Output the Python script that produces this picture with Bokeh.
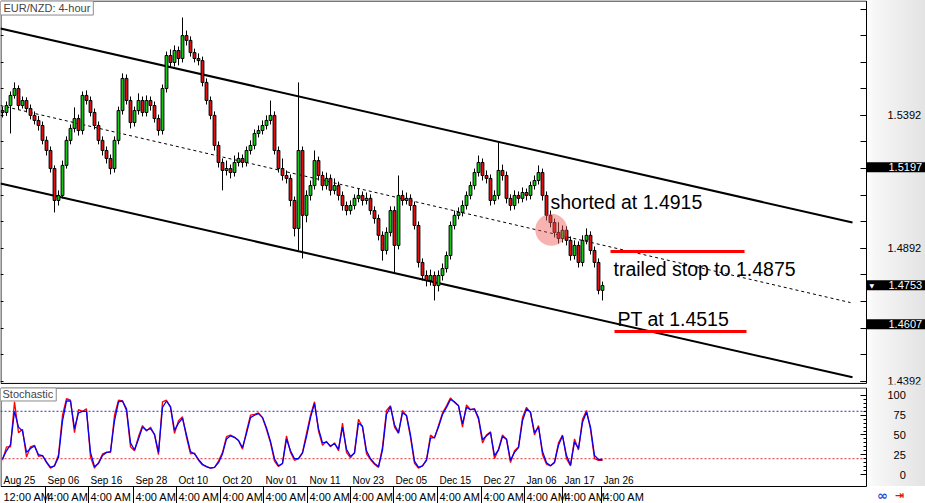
from bokeh.plotting import figure
from bokeh.models import Range1d, FixedTicker, Label, NumeralTickFormatter, ColumnDataSource, LinearAxis
from bokeh.layouts import column
from bokeh.embed import file_html
from bokeh.resources import INLINE
from bokeh.core.properties import value

# ---------------- data ----------------
open_ = [1.5410, 1.5403, 1.5429, 1.5467, 1.5493, 1.5429, 1.5448, 1.5418, 1.5392, 1.5373,
         1.5354, 1.5298, 1.5260, 1.5192, 1.5072, 1.5091, 1.5204, 1.5298, 1.5343, 1.5380,
         1.5335, 1.5467, 1.5448, 1.5403, 1.5354, 1.5298, 1.5260, 1.5230, 1.5192, 1.5298,
         1.5410, 1.5531, 1.5448, 1.5365, 1.5410, 1.5448, 1.5403, 1.5448, 1.5429, 1.5380,
         1.5335, 1.5493, 1.5617, 1.5591, 1.5636, 1.5606, 1.5692, 1.5674, 1.5628, 1.5606,
         1.5598, 1.5516, 1.5448, 1.5392, 1.5279, 1.5215, 1.5185, 1.5192, 1.5177, 1.5215,
         1.5230, 1.5215, 1.5260, 1.5279, 1.5324, 1.5335, 1.5354, 1.5373, 1.5392, 1.5260,
         1.5192, 1.5166, 1.5155, 1.5072, 1.4967, 1.5260, 1.5016, 1.5091, 1.5128, 1.5222,
         1.5166, 1.5128, 1.5155, 1.5110, 1.5128, 1.5091, 1.5053, 1.5034, 1.5053, 1.5080,
         1.5091, 1.5072, 1.5080, 1.5034, 1.5004, 1.4941, 1.4884, 1.4952, 1.5034, 1.4903,
         1.5091, 1.5072, 1.5080, 1.5053, 1.4978, 1.4839, 1.4790, 1.4771, 1.4790, 1.4752,
         1.4790, 1.4816, 1.4865, 1.4978, 1.5016, 1.5027, 1.5053, 1.5091, 1.5128, 1.5177,
         1.5215, 1.5166, 1.5155, 1.5072, 1.5091, 1.5185, 1.5166, 1.5080, 1.5053, 1.5091,
         1.5080, 1.5102, 1.5091, 1.5128, 1.5147, 1.5177, 1.5091, 1.5016, 1.4989, 1.4952,
         1.4929, 1.4960, 1.4922, 1.4865, 1.4903, 1.4839, 1.4922, 1.4941, 1.4884, 1.4839,
         1.4734]
high = [1.5425, 1.5444, 1.5482, 1.5516, 1.5505, 1.5463, 1.5460, 1.5433, 1.5407, 1.5390,
        1.5369, 1.5313, 1.5275, 1.5204, 1.5110, 1.5222, 1.5313, 1.5358, 1.5422, 1.5395,
        1.5482, 1.5486, 1.5463, 1.5418, 1.5369, 1.5313, 1.5275, 1.5245, 1.5313, 1.5425,
        1.5550, 1.5546, 1.5463, 1.5425, 1.5475, 1.5463, 1.5467, 1.5463, 1.5444, 1.5395,
        1.5508, 1.5632, 1.5640, 1.5655, 1.5651, 1.5760, 1.5711, 1.5689, 1.5643, 1.5625,
        1.5613, 1.5531, 1.5463, 1.5407, 1.5294, 1.5230, 1.5222, 1.5207, 1.5241, 1.5253,
        1.5245, 1.5275, 1.5298, 1.5339, 1.5354, 1.5373, 1.5392, 1.5448, 1.5407, 1.5275,
        1.5230, 1.5185, 1.5170, 1.5087, 1.5516, 1.5275, 1.5110, 1.5147, 1.5260, 1.5237,
        1.5181, 1.5177, 1.5170, 1.5155, 1.5143, 1.5106, 1.5068, 1.5072, 1.5095, 1.5117,
        1.5106, 1.5102, 1.5095, 1.5050, 1.5019, 1.4956, 1.4971, 1.5050, 1.5050, 1.5166,
        1.5110, 1.5102, 1.5095, 1.5068, 1.4993, 1.4854, 1.4809, 1.4812, 1.4805, 1.4809,
        1.4835, 1.4880, 1.4993, 1.5034, 1.5046, 1.5072, 1.5106, 1.5143, 1.5192, 1.5241,
        1.5230, 1.5185, 1.5170, 1.5110, 1.5290, 1.5207, 1.5181, 1.5095, 1.5110, 1.5106,
        1.5121, 1.5117, 1.5143, 1.5166, 1.5204, 1.5192, 1.5106, 1.5034, 1.5004, 1.4990,
        1.4978, 1.4975, 1.4937, 1.4922, 1.4918, 1.4941, 1.4967, 1.4956, 1.4899, 1.4854,
        1.4767]
low = [1.5384, 1.5390, 1.5324, 1.5455, 1.5414, 1.5418, 1.5403, 1.5377, 1.5358, 1.5335,
       1.5283, 1.5241, 1.5177, 1.5027, 1.5053, 1.5080, 1.5192, 1.5283, 1.5328, 1.5316,
       1.5320, 1.5433, 1.5388, 1.5339, 1.5283, 1.5241, 1.5211, 1.5170, 1.5177, 1.5283,
       1.5395, 1.5433, 1.5343, 1.5350, 1.5395, 1.5388, 1.5388, 1.5410, 1.5365, 1.5316,
       1.5320, 1.5478, 1.5572, 1.5576, 1.5580, 1.5591, 1.5655, 1.5613, 1.5591, 1.5580,
       1.5501, 1.5433, 1.5377, 1.5260, 1.5196, 1.5110, 1.5166, 1.5155, 1.5162, 1.5200,
       1.5196, 1.5200, 1.5245, 1.5264, 1.5309, 1.5320, 1.5339, 1.5358, 1.5245, 1.5177,
       1.5147, 1.5136, 1.5050, 1.4937, 1.4884, 1.4854, 1.4990, 1.5072, 1.5113, 1.5147,
       1.5110, 1.5113, 1.5091, 1.5095, 1.5072, 1.5034, 1.5016, 1.5019, 1.5038, 1.5065,
       1.5053, 1.5057, 1.5019, 1.4985, 1.4922, 1.4846, 1.4869, 1.4937, 1.4798, 1.4888,
       1.5053, 1.5057, 1.5034, 1.4963, 1.4820, 1.4771, 1.4749, 1.4752, 1.4696, 1.4730,
       1.4771, 1.4801, 1.4850, 1.4963, 1.5001, 1.5012, 1.5038, 1.5076, 1.5113, 1.5162,
       1.5147, 1.5136, 1.5053, 1.5057, 1.5076, 1.5147, 1.5061, 1.5034, 1.5038, 1.5061,
       1.5065, 1.5072, 1.5076, 1.5113, 1.5132, 1.5072, 1.4997, 1.4971, 1.4933, 1.4910,
       1.4914, 1.4903, 1.4846, 1.4850, 1.4820, 1.4824, 1.4907, 1.4869, 1.4820, 1.4719,
       1.4696]
close = [1.5403, 1.5429, 1.5467, 1.5493, 1.5429, 1.5448, 1.5418, 1.5392, 1.5373, 1.5354,
         1.5298, 1.5260, 1.5192, 1.5072, 1.5091, 1.5204, 1.5298, 1.5343, 1.5380, 1.5335,
         1.5467, 1.5448, 1.5403, 1.5354, 1.5298, 1.5260, 1.5230, 1.5192, 1.5298, 1.5410,
         1.5531, 1.5448, 1.5365, 1.5410, 1.5448, 1.5403, 1.5448, 1.5429, 1.5380, 1.5335,
         1.5493, 1.5617, 1.5591, 1.5636, 1.5606, 1.5692, 1.5674, 1.5628, 1.5606, 1.5598,
         1.5516, 1.5448, 1.5392, 1.5279, 1.5215, 1.5185, 1.5192, 1.5177, 1.5215, 1.5230,
         1.5215, 1.5260, 1.5279, 1.5324, 1.5335, 1.5354, 1.5373, 1.5392, 1.5260, 1.5192,
         1.5166, 1.5155, 1.5072, 1.4967, 1.5260, 1.5016, 1.5091, 1.5128, 1.5222, 1.5166,
         1.5128, 1.5155, 1.5110, 1.5128, 1.5091, 1.5053, 1.5034, 1.5053, 1.5080, 1.5091,
         1.5072, 1.5080, 1.5034, 1.5004, 1.4941, 1.4884, 1.4952, 1.5034, 1.4903, 1.5091,
         1.5072, 1.5080, 1.5053, 1.4978, 1.4839, 1.4790, 1.4771, 1.4790, 1.4752, 1.4790,
         1.4816, 1.4865, 1.4978, 1.5016, 1.5027, 1.5053, 1.5091, 1.5128, 1.5177, 1.5215,
         1.5166, 1.5155, 1.5072, 1.5091, 1.5185, 1.5166, 1.5080, 1.5053, 1.5091, 1.5080,
         1.5102, 1.5091, 1.5128, 1.5147, 1.5177, 1.5091, 1.5016, 1.4989, 1.4952, 1.4929,
         1.4960, 1.4922, 1.4865, 1.4903, 1.4839, 1.4922, 1.4941, 1.4884, 1.4839, 1.4734,
         1.4752]

stoch_main = [18, 35, 35, 92, 53, 57, 22, 35, 37, 23,
              24, 15, 8, 11, 25, 75, 96, 94, 53, 82,
              80, 83, 22, 8, 15, 26, 28, 28, 75, 94,
              93, 81, 35, 30, 48, 62, 55, 60, 50, 25,
              92, 94, 85, 52, 68, 73, 47, 26, 27, 18,
              12, 10, 8, 9, 17, 28, 48, 50, 47, 43,
              32, 55, 75, 76, 78, 72, 57, 40, 17, 10,
              14, 49, 28, 18, 20, 28, 52, 75, 92, 55,
              37, 42, 35, 40, 30, 65, 28, 21, 28, 70,
              60, 26, 19, 13, 9, 35, 81, 87, 60, 52,
              81, 74, 47, 14, 8, 11, 19, 50, 46, 62,
              78, 87, 97, 91, 87, 60, 88, 82, 83, 70,
              40, 50, 54, 20, 32, 50, 44, 15, 30, 35,
              72, 85, 78, 50, 62, 25, 13, 11, 16, 40,
              50, 20, 11, 45, 31, 70, 81, 57, 20, 18,
              18]
stoch_signal = [20, 30, 38, 80, 60, 55, 28, 33, 36, 25,
                24, 16, 9, 11, 22, 68, 93, 93, 58, 78,
                80, 80, 28, 10, 14, 24, 28, 29, 68, 92,
                93, 83, 40, 31, 45, 60, 56, 58, 51, 28,
                85, 93, 86, 56, 65, 71, 50, 29, 26, 19,
                13, 10, 8, 9, 15, 26, 45, 49, 47, 43,
                34, 52, 72, 75, 77, 72, 59, 42, 20, 11,
                14, 45, 30, 20, 20, 27, 48, 72, 90, 58,
                40, 41, 36, 39, 32, 60, 32, 23, 27, 65,
                61, 30, 20, 14, 10, 31, 76, 86, 63, 53,
                78, 75, 50, 17, 9, 11, 18, 46, 47, 60,
                76, 85, 95, 92, 87, 64, 85, 82, 83, 72,
                44, 49, 53, 24, 31, 48, 45, 18, 28, 34,
                68, 83, 79, 53, 60, 29, 15, 11, 15, 37,
                49, 24, 12, 41, 33, 66, 79, 60, 24, 19,
                19]
stoch_upper_level = 80
stoch_lower_level = 20

date_pos = [-0.25, 10.75, 21.5, 32.75, 43.5, 54.5, 65.25, 76.25, 87, 97.75,
            108.75, 119.75, 130.5, 140, 149.75]
date_labels = ["Aug 25", "Sep 06", "Sep 16", "Sep 28", "Oct 10", "Oct 20", "Nov 01",
               "Nov 11", "Nov 23", "Dec 05", "Dec 15", "Dec 27", "Jan 06", "Jan 17", "Jan 26"]
time_labels = ["12:00 AM"] + ["4:00 AM"] * 14

price_ticks = [1.4392, 1.4892, 1.5392]
price_minor = [1.4392, 1.4492, 1.4592, 1.4692, 1.4792, 1.4892, 1.4992, 1.5092,
               1.5192, 1.5292, 1.5392, 1.5492, 1.5592, 1.5692, 1.5792]
stoch_ticks = [0, 25, 50, 75, 100]
stoch_minor = [0, 5, 10, 15, 20, 25, 30, 35, 40, 45, 50, 55, 60, 65, 70, 75, 80, 85, 90, 95, 100]

# channel trend lines (x in bar index, y in price)
chan_x = [-0.5, 212.5]
upper_y = [1.5719, 1.4989]
mid_x = [-0.5, 212.0]
mid_y = [1.5429, 1.4688]
lower_y = [1.5136, 1.4407]

stop_x = [152.0, 185.5]
stop_y = [1.4880, 1.4880]
pt_x = [153.0, 186.0]
pt_y = [1.4579, 1.4579]
entry_x = [137.2]
entry_y = [1.4962]

price_boxes = [1.5197, 1.4753, 1.4607]

# ---------------- geometry ----------------
W = 925
H1 = 387
H2 = 116
X0, XEND = -0.5, 230.75     # frame covers the full width (price scale area included)
PANEL_END = 216.0           # right edge of the chart panels (price scale sits here)
FONT = "Liberation Sans"
GRAD = "linear-gradient(to right, #ffffff 0%, #ffffff 93.6%, #f7f7f7 94.5%, #e3e3e3 100%)"

idx = list(range(len(close)))
top = [max(o, c) for o, c in zip(open_, close)]
bot = [min(o, c) for o, c in zip(open_, close)]
colors = ["#14c814" if c >= o else "#e01010" for o, c in zip(open_, close)]
src = ColumnDataSource(dict(x=idx, high=high, low=low, top=top, bot=bot, color=colors))

xr = Range1d(X0, XEND)

# ================= main price panel =================
p = figure(width=W, height=H1, x_range=xr, y_range=Range1d(1.4380, 1.5824),
           output_backend="svg", toolbar_location=None,
           x_axis_location=None, y_axis_location=None,
           min_border_left=0, min_border_top=0, min_border_bottom=3, min_border_right=0)
p.grid.visible = False
p.background_fill_color = None
p.border_fill_color = None
p.styles = {"background": GRAD}
p.outline_line_color = None

ya = LinearAxis(fixed_location=PANEL_END)
ya.ticker = FixedTicker(ticks=price_ticks, minor_ticks=price_minor)
ya.formatter = NumeralTickFormatter(format="0.0000")
ya.axis_line_color = None
ya.major_tick_in = 6
ya.major_tick_out = 0
ya.minor_tick_in = 6
ya.minor_tick_out = 0
ya.major_tick_line_color = "black"
ya.minor_tick_line_color = "black"
ya.major_label_standoff = 21
ya.major_label_text_font = FONT
ya.major_label_text_font_size = "11px"
ya.major_label_text_color = "black"
p.add_layout(ya, "right")

# short inner ticks on the left edge of the price panel
la = LinearAxis(fixed_location=-0.38)
la.ticker = FixedTicker(ticks=price_minor, minor_ticks=[])
la.major_label_overrides = {t: "" for t in price_minor}
la.axis_line_color = None
la.major_tick_in = 3
la.major_tick_out = 0
la.major_tick_line_color = "black"
p.add_layout(la, "left")

# panel border
p.quad(left=[-0.38], right=[PANEL_END], bottom=[1.4384], top=[1.5822],
       fill_color="white", line_color="black", line_width=1, level="underlay")

# channel
p.line(chan_x, upper_y, line_color="black", line_width=2)
p.line(chan_x, lower_y, line_color="black", line_width=2)
p.line(mid_x, mid_y, line_color="black", line_width=1, line_dash="3 3")

# candles
p.segment(x0="x", y0="low", x1="x", y1="high", source=src, line_color="black", line_width=1)
p.vbar(x="x", width=0.7, top="top", bottom="bot", source=src,
       fill_color="color", line_color="black", line_width=1)

# entry highlight
p.circle(x=entry_x, y=entry_y, radius=16, radius_units="screen",
         fill_color="#ee5555", fill_alpha=0.45, line_color=None)

# stop / target lines
p.line(stop_x, stop_y, line_color="#ff0000", line_width=3)
p.line(pt_x, pt_y, line_color="#ff0000", line_width=3)

p.text(x=[137.0], y=[1.5066], text=["shorted at 1.4915"], text_font=value(FONT),
       text_font_size="19.5px", text_align="left", text_baseline="middle", text_color="black")
p.text(x=[152.75], y=[1.4816], text=["trailed stop to 1.4875"], text_font=value(FONT),
       text_font_size="19.5px", text_align="left", text_baseline="middle", text_color="black")
p.text(x=[153.75], y=[1.4628], text=["PT at 1.4515"], text_font=value(FONT),
       text_font_size="19.5px", text_align="left", text_baseline="middle", text_color="black")

p.add_layout(Label(x=-0.5, y=1.5822, text="EUR/NZD: 4-hour", text_font=FONT,
                   text_font_size="11px", text_align="left", text_baseline="top",
                   background_fill_color="white", border_line_color="#8a8a8a",
                   padding=dict(left=3, right=3, top=1, bottom=1)))

for pv in price_boxes:
    p.add_layout(Label(x=PANEL_END, y=pv, text=f"{pv:.4f}", text_font=FONT, text_font_size="11px",
                       text_color="white", text_align="left", text_baseline="middle",
                       background_fill_color="black",
                       padding=dict(left=22, right=8, top=1, bottom=1)))
p.add_layout(Label(x=PANEL_END, y=price_boxes[1], text="\u25bc", text_font="DejaVu Sans",
                   text_font_size="6px", text_color="white", text_align="left",
                   text_baseline="middle", x_offset=3))

# ================= stochastic panel =================
s = figure(width=W, height=H2, x_range=xr, y_range=Range1d(-36.7, 110.1),
           output_backend="svg", toolbar_location=None,
           x_axis_location=None, y_axis_location=None,
           min_border_left=0, min_border_top=0, min_border_bottom=0, min_border_right=0)
s.grid.visible = False
s.background_fill_color = None
s.border_fill_color = None
s.styles = {"background": "linear-gradient(to bottom, rgba(255,255,255,0) 0px, rgba(255,255,255,0) 99px, #ffffff 99px), " + GRAD}
s.outline_line_color = None

sa = LinearAxis(fixed_location=PANEL_END)
sa.ticker = FixedTicker(ticks=stoch_ticks, minor_ticks=stoch_minor)
sa.major_label_overrides = {0: "\u2007\u20070", 25: "\u200725", 50: "\u200750", 75: "\u200775", 100: "100"}
sa.axis_line_color = None
sa.major_tick_in = 6
sa.major_tick_out = 0
sa.minor_tick_in = 3
sa.minor_tick_out = 0
sa.major_tick_line_color = "black"
sa.minor_tick_line_color = "black"
sa.major_label_standoff = 21
sa.major_label_text_font = FONT
sa.major_label_text_font_size = "11px"
sa.major_label_text_color = "black"
s.add_layout(sa, "right")

s.quad(left=[-0.38], right=[PANEL_END], bottom=[-15.2], top=[109.5],
       fill_color="white", line_color="black", line_width=1, level="underlay")

s.line([X0, PANEL_END], [stoch_upper_level, stoch_upper_level], line_color="#3030d0",
       line_width=1, line_dash="2 2")
s.line([X0, PANEL_END], [stoch_lower_level, stoch_lower_level], line_color="#e03030",
       line_width=1, line_dash="2 2")

s.line(idx, stoch_main, line_color="#ff0000", line_width=1.3)
s.line(idx, stoch_signal, line_color="#0000ff", line_width=1.3)

s.text(x=date_pos, y=[-7.6] * len(date_pos), text=date_labels, x_offset=2,
       text_font=value(FONT), text_font_size="10px", text_align="left",
       text_baseline="middle", text_color="black")
s.segment(x0=date_pos[1:], y0=[-15.2] * (len(date_pos) - 1), x1=date_pos[1:],
          y1=[-36.7] * (len(date_pos) - 1), line_color="black", line_width=1)
s.text(x=date_pos, y=[-29.1] * len(date_pos), text=time_labels, x_offset=2,
       text_font=value(FONT), text_font_size="11px", text_align="left",
       text_baseline="middle", text_color="black")

# small toolbar icons at the bottom right
s.text(x=[220.0], y=[-26.6], text=["\u221e"], text_font=value("DejaVu Sans"),
       text_font_size="13px", text_font_style="bold", text_align="center",
       text_baseline="middle", text_color="#1f4fd8")
s.text(x=[224.2], y=[-26.6], text=["\u21e5"], text_font=value("DejaVu Sans"),
       text_font_size="11px", text_font_style="bold", text_align="center",
       text_baseline="middle", text_color="#e01010")

s.add_layout(Label(x=-0.5, y=109.5, text="Stochastic", text_font=FONT,
                   text_font_size="11px", text_align="left", text_baseline="top",
                   background_fill_color="white", border_line_color="#8a8a8a",
                   padding=dict(left=2, right=3, top=0, bottom=1)))

layout = column(p, s, spacing=0)
open("out.html", "w").write(file_html(layout, INLINE))
